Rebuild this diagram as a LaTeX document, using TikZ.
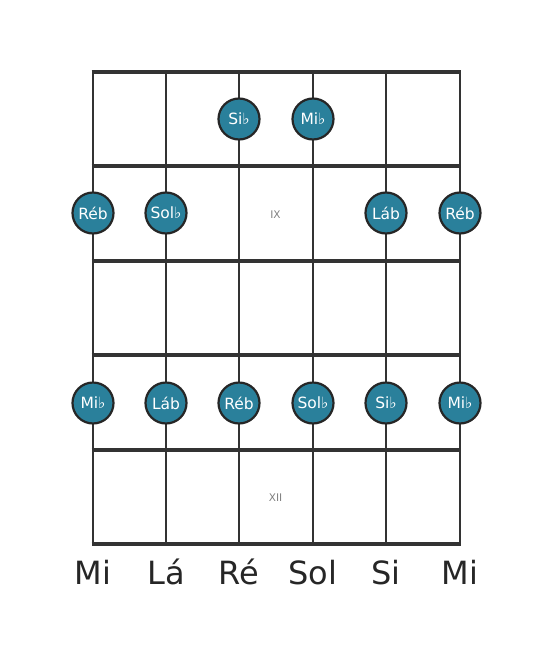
\documentclass[tikz,border=0pt]{standalone}
\usepackage{fontspec}
\setmainfont{DejaVu Sans}
\begin{document}
\begin{tikzpicture}[x=1pt,y=-1pt,
  fret/.style={draw=black!80,line width=4pt},
  string/.style={draw=black!80,line width=2.6pt},
  dot/.style={circle,fill=dotcol,draw=black!85,line width=2.2pt,minimum size=41pt,inner sep=0pt,text=white,font=\fontsize{15.5}{17}\selectfont},
  lbl/.style={text=black!85,font=\fontsize{32}{35}\selectfont,anchor=base},
  fretnum/.style={text=black!50,font=\fontsize{10.5}{12}\selectfont}]
\definecolor{dotcol}{HTML}{2A809B}
\useasboundingbox (0,0) rectangle (553,656);
\foreach \x [count=\i] in {93,166,239,313,386,460} {
  \coordinate (s\i t) at (\x,72);
  \coordinate (s\i b) at (\x,544);
  \draw[string] (s\i t) -- (s\i b);
}
\foreach \y [count=\j] in {72,166,261,355,450,544} {
  \coordinate (f\j l) at (91.7,\y);
  \coordinate (f\j r) at (461.3,\y);
  \draw[fret] (f\j l) -- (f\j r);
}
\node[fretnum] (ix) at (275.5,214.5) {IX};
\node[fretnum] (xii) at (275.5,498) {XII};
% dots
\node[dot] (d1) at (239,119) {Si♭};
\node[dot] (d2) at (313,119) {Mi♭};
\node[dot] (d3) at (93,213) {Réb};
\node[dot] (d4) at (166,213) {Sol♭};
\node[dot] (d5) at (386,213) {Láb};
\node[dot] (d6) at (460,213) {Réb};
\node[dot] (d7) at (93,403) {Mi♭};
\node[dot] (d8) at (166,403) {Láb};
\node[dot] (d9) at (239,403) {Réb};
\node[dot] (d10) at (313,403) {Sol♭};
\node[dot] (d11) at (386,403) {Si♭};
\node[dot] (d12) at (460,403) {Mi♭};
% string names
\node[lbl] (n1) at (93,584) {Mi};
\node[lbl] (n2) at (166,584) {Lá};
\node[lbl] (n3) at (239,584) {Ré};
\node[lbl] (n4) at (313,584) {Sol};
\node[lbl] (n5) at (386,584) {Si};
\node[lbl] (n6) at (460,584) {Mi};
\end{tikzpicture}
\end{document}
